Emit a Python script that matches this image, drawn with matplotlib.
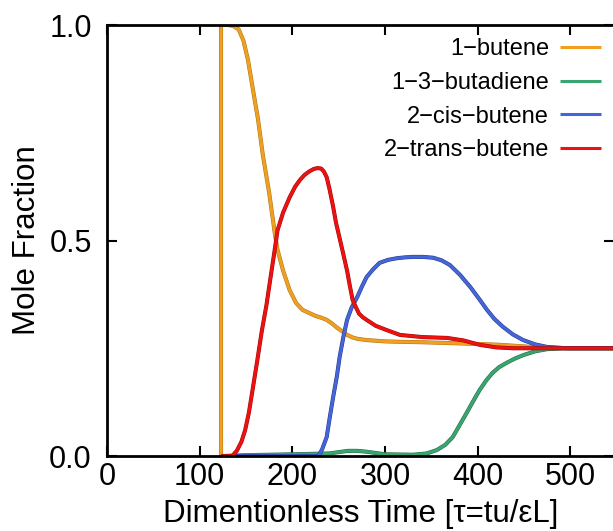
import matplotlib
matplotlib.use("Agg")
import matplotlib.pyplot as plt
import matplotlib.patheffects as pe

plt.rcParams['font.family'] = ['Liberation Sans', 'DejaVu Sans']

# 1-butene
x_but = [123, 123, 130, 136, 142, 147, 152, 157, 163, 168, 175, 181, 184, 190, 197, 204, 211,
         218, 225, 231, 237, 243, 248, 254, 259, 265, 270, 280, 300, 316, 340, 370, 400, 424,
         445, 467, 485, 500, 547]
y_but = [0.0, 1.0, 1.0, 0.998, 0.99, 0.965, 0.92, 0.856, 0.78, 0.70, 0.61, 0.517, 0.478, 0.43,
         0.385, 0.355, 0.339, 0.332, 0.325, 0.321, 0.316, 0.307, 0.298, 0.289, 0.281, 0.275,
         0.272, 0.269, 0.266, 0.265, 0.264, 0.262, 0.26, 0.258, 0.255, 0.252, 0.251, 0.25, 0.25]

# 1-3-butadiene
x_bd = [123, 150, 200, 240, 250, 260, 270, 280, 300, 330, 345, 356, 365, 373, 380, 388, 395,
        402, 409, 416, 423, 431, 440, 449, 462, 475, 496, 547]
y_bd = [0.0, 0.002, 0.004, 0.006, 0.009, 0.012, 0.012, 0.01, 0.004, 0.003, 0.006, 0.014, 0.026,
        0.044, 0.07, 0.10, 0.127, 0.153, 0.175, 0.193, 0.206, 0.216, 0.226, 0.234, 0.243, 0.248,
        0.25, 0.25]

# 2-cis-butene
x_cis = [123, 228, 232, 237, 240, 244, 248, 251, 255, 259, 264, 270, 275, 280, 287, 294, 303,
         313, 322, 330, 341, 352, 361, 370, 381, 392, 401, 410, 418, 427, 438, 449, 462, 475,
         496, 547]
y_cis = [0.0, 0.0, 0.015, 0.044, 0.085, 0.137, 0.185, 0.23, 0.276, 0.316, 0.345, 0.369, 0.393,
         0.415, 0.433, 0.448, 0.455, 0.459, 0.461, 0.462, 0.462, 0.46, 0.454, 0.443, 0.42,
         0.392, 0.366, 0.339, 0.318, 0.30, 0.282, 0.269, 0.259, 0.253, 0.25, 0.25]

# 2-trans-butene
x_tr = [123, 135, 140, 145, 149, 153, 157, 162, 167, 172, 176, 180, 184, 190, 197, 203, 208,
        213, 218, 223, 227, 231, 234, 237, 240, 244, 247, 251, 255, 259, 262, 265, 269, 272,
        276, 280, 290, 302, 316, 340, 367, 385, 402, 420, 438, 547]
y_tr = [0.0, 0.0, 0.012, 0.033, 0.06, 0.10, 0.153, 0.22, 0.29, 0.35, 0.408, 0.465, 0.524, 0.565,
        0.60, 0.625, 0.64, 0.652, 0.66, 0.666, 0.668, 0.667, 0.66, 0.647, 0.62, 0.578, 0.542,
        0.505, 0.468, 0.43, 0.395, 0.362, 0.343, 0.33, 0.322, 0.316, 0.302, 0.292, 0.281,
        0.276, 0.274, 0.268, 0.258, 0.252, 0.25, 0.25]

series = [
    ("1\u2212butene", x_but, y_but, "#f0a020", "#b07010"),
    ("1\u22123\u2212butadiene", x_bd, y_bd, "#3aa570", "#1e6a44"),
    ("2\u2212cis\u2212butene", x_cis, y_cis, "#4466d8", "#23388a"),
    ("2\u2212trans\u2212butene", x_tr, y_tr, "#ee1111", "#9a0a0a"),
]

fig = plt.figure(figsize=(6.13, 5.31), dpi=100)
ax = fig.add_axes([0.1746, 0.1412, 0.827, 0.8117])

for label, xs, ys, col, edge in series:
    ax.plot(xs, ys, color=col, lw=2.2, label=label, solid_capstyle='butt',
            path_effects=[pe.Stroke(linewidth=2.9, foreground=edge), pe.Normal()])

ax.set_xlim(0, 547)
ax.set_ylim(0, 1)
ax.set_xticks([0, 100, 200, 300, 400, 500])
ax.set_yticks([0.0, 0.5, 1.0])
ax.set_yticklabels(["0.0", "0.5", "1.0"])
ax.tick_params(direction='in', top=True, right=True, length=7, width=1.5, labelsize=22)
ax.tick_params(axis='y', pad=11)
ax.tick_params(axis='x', pad=4)
for s in ax.spines.values():
    s.set_linewidth(2)

ax.set_xlabel("Dimentionless Time [\u03c4=tu/\u03b5L]", fontsize=22.5, labelpad=5)
ax.set_ylabel("Mole Fraction", fontsize=22.5, labelpad=5)

leg = ax.legend(loc='upper right', frameon=False, markerfirst=False, fontsize=17,
                handlelength=1.75, handletextpad=0.45, labelspacing=0.5,
                borderaxespad=0.25, borderpad=0.3)
for h in leg.get_lines():
    h.set_path_effects([])
    h.set_linewidth(2.2)

fig.savefig("out.png", dpi=100)
